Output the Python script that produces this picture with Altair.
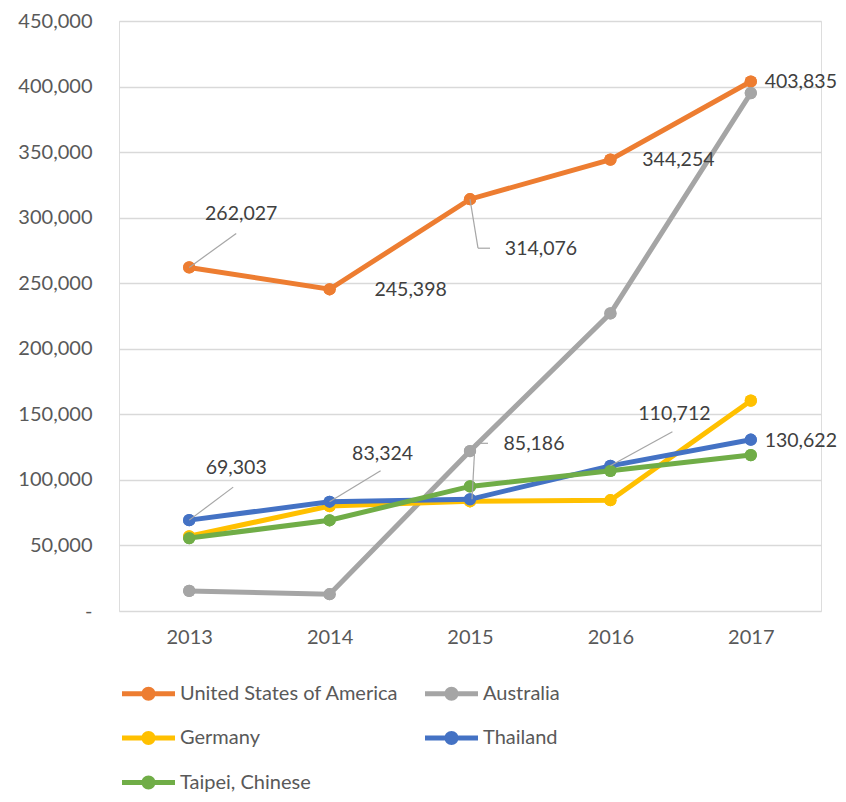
import altair as alt
import pandas as pd

years = ["2013", "2014", "2015", "2016", "2017"]
series = ["United States of America", "Australia", "Germany", "Thailand", "Taipei, Chinese"]
colors = ["#ED7D31", "#A5A5A5", "#FFC000", "#4472C4", "#70AD47"]

usa = [262027, 245398, 314076, 344254, 403835]
australia = [15300, 12800, 122000, 227000, 395000]
germany = [57000, 80000, 83700, 84500, 160400]
thailand = [69303, 83324, 85186, 110712, 130622]
taipei = [55600, 69200, 95000, 106900, 118900]

values = [usa, australia, germany, thailand, taipei]

rows = []
for s, vals in zip(series, values):
    for y, v in zip(years, vals):
        rows.append({"series": s, "year": y, "value": v})
df = pd.DataFrame(rows)

# labelled points: (series, year, label dx, label dy, leader polyline offsets)
label_specs = [
    ("United States of America", "2013", 52, -53, [(0, 0), (47, -34)]),
    ("United States of America", "2014", 81, 1, []),
    ("United States of America", "2015", 71, 50, [(0, 0), (8, 49), (20, 49)]),
    ("United States of America", "2016", 68, 0, []),
    ("United States of America", "2017", 50, 0, []),
    ("Thailand", "2013", 47, -52, [(0, 0), (44, -33)]),
    ("Thailand", "2014", 53, -48, [(0, 0), (51, -31)]),
    ("Thailand", "2015", 64, -55, [(2, 0), (5, -56), (18, -56)]),
    ("Thailand", "2016", 64, -52, [(0, 0), (62, -34)]),
    ("Thailand", "2017", 50, 1, []),
]

FONT = "Lato"

x_enc = alt.X(
    "year:O",
    scale=alt.Scale(type="point", padding=0.5, domain=years),
    axis=alt.Axis(
        title=None, labelAngle=0, domain=False, ticks=False, grid=False,
        labelFontSize=20, labelColor="#595959", labelFont=FONT, labelPadding=16,
    ),
)
y_enc = alt.Y(
    "value:Q",
    scale=alt.Scale(domain=[0, 450000], nice=False),
    axis=alt.Axis(
        title=None, values=list(range(0, 450001, 50000)), domain=False, ticks=False,
        grid=True, gridColor="#D9D9D9", gridWidth=1.4,
        labelExpr="datum.value == 0 ? '-\u00a0\u00a0' : format(datum.value, ',')",
        labelFontSize=20, labelColor="#595959", labelFont=FONT, labelPadding=27,
    ),
)

legend_path = (
    "M-1,-0.094L-0.25,-0.094L-0.25,0.094L-1,0.094Z "
    "M0.25,-0.094L1,-0.094L1,0.094L0.25,0.094Z "
    "M0.264,0A0.264,0.264 0 1,1 -0.264,0A0.264,0.264 0 1,1 0.264,0Z"
)

color_legend = alt.Color(
    "series:N",
    scale=alt.Scale(domain=series, range=colors),
    sort=series,
    legend=alt.Legend(
        title=None, orient="none", legendX=3, legendY=646, columns=2,
        direction="horizontal",
        symbolType=legend_path, symbolSize=2809, symbolStrokeWidth=0,
        symbolOpacity=1,
        labelFont=FONT, labelFontSize=20, labelColor="#595959", labelOffset=5,
        labelLimit=0, rowPadding=7.5, columnPadding=26,
    ),
)
color_enc = alt.Color("series:N")

layers = [
    alt.Chart(df).mark_point(filled=True, size=150, opacity=1).encode(
        x=x_enc, y=y_enc, color=color_legend)
]
for s in series:
    sub = df[df["series"] == s]
    base = alt.Chart(sub).encode(x=alt.X("year:O"), y=alt.Y("value:Q"), color=color_enc)
    layers.append(base.mark_line(strokeWidth=5))
    layers.append(base.mark_point(filled=True, size=150, opacity=1))

for s, yr, dx, dy, leader in label_specs:
    sub = df[(df["series"] == s) & (df["year"] == yr)]
    for (ax, ay), (bx, by) in zip(leader[:-1], leader[1:]):
        layers.append(
            alt.Chart(sub).mark_rule(
                color="#A6A6A6", strokeWidth=1.2,
                xOffset=ax, yOffset=ay, x2Offset=bx, y2Offset=by,
            ).encode(x=alt.X("year:O"), y=alt.Y("value:Q"),
                     x2=alt.X2("year"), y2=alt.Y2("value"))
        )
    layers.append(
        alt.Chart(sub).mark_text(
            dx=dx, dy=dy, align="center", baseline="middle",
            font=FONT, fontSize=19.5, color="#404040",
        ).encode(x=alt.X("year:O"), y=alt.Y("value:Q"),
                 text=alt.Text("value:Q", format=","))
    )

chart = alt.layer(*layers).properties(
    width=702,
    height=590,
    autosize=alt.AutoSizeParams(type="none"),
    padding={"left": 111, "top": 13, "right": 17, "bottom": 181},
).configure_view(stroke=None).configure(background="white")

chart.save("out.html", embed_options={"renderer": "svg", "actions": False})
